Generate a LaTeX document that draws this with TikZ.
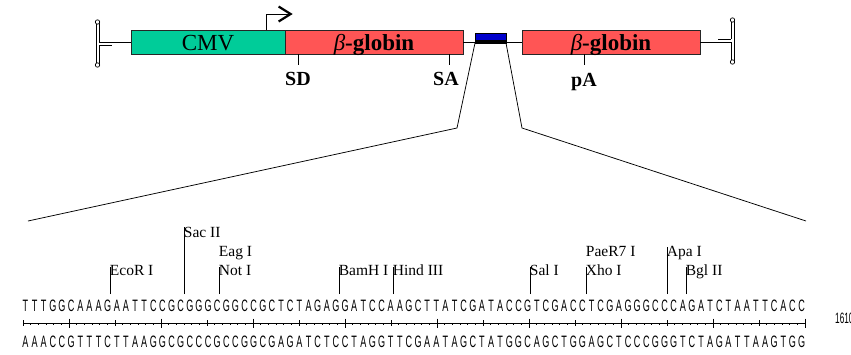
\documentclass[tikz,border=0pt]{standalone}
\usepackage{fontspec}
\setmainfont{Liberation Serif}
\newfontfamily\seqfont{Liberation Sans}
\usetikzlibrary{arrows.meta}
\definecolor{cmvgreen}{RGB}{0,204,153}
\definecolor{globred}{RGB}{255,85,85}
\definecolor{mcsblue}{RGB}{0,0,204}
\begin{document}
\begin{tikzpicture}[x=1pt,y=-1pt,
  box/.style={draw=black!85,line width=0.9pt,inner sep=0pt,outer sep=0pt,anchor=north west,
    text height=20.5pt,text depth=3.5pt,font=\fontsize{23}{23}\selectfont},
  gbox/.style={box,fill=globred,minimum width=178pt,font=\fontsize{23}{23}\selectfont\bfseries},
  wire/.style={line width=0.9pt},
  fine/.style={line width=0.75pt},
  mark label/.style={font=\fontsize{20}{20}\selectfont\bfseries,inner sep=0pt,anchor=base},
  enz/.style={font=\fontsize{15.5}{15.5}\selectfont,inner sep=0pt,anchor=base west},
  seq/.style={font=\seqfont\fontsize{16.5}{16.5}\selectfont,inner sep=0pt,anchor=base},
  term/.style={line width=0.7pt,fill=white}
]
\path[use as bounding box,fill=white] (0,0) rectangle (851,354);

% ---- boxes
\node[box,fill=cmvgreen,minimum width=154pt] (cmv) at (131,30) {CMV};
\node[gbox] (g1) at (285,30) {{\mdseries\itshape β}-globin};
\node[gbox] (g2) at (522,30) {{\mdseries\itshape β}-globin};

% backbone and MCS
\draw[wire] (g1.east) -- (g2.west);
\node[draw=black,fill=mcsblue,line width=0.8pt,minimum width=31pt,minimum height=10pt,
  anchor=north west,inner sep=0pt,outer sep=0pt] (mcs) at (475,33) {};
\fill[black] (mcs.south west) rectangle ([yshift=3pt]mcs.south east);

% left terminator
\coordinate (lt) at (99,42);
\draw[wire] (lt) -- (cmv.west);
\draw[fine] (96,23) -- (96,64);
\draw[fine] (99,23) -- (99,42);
\draw[fine] (99,45) -- (99,64);
\draw[fine] (99,45) -- (112,45);
\draw[term] (97.5,22) circle[radius=2.2pt];
\draw[term] (97.5,65) circle[radius=2.2pt];

% right terminator
\coordinate (rt) at (731,42);
\draw[wire] (g2.east) -- (rt);
\draw[fine] (734,21) -- (734,62);
\draw[fine] (731,21) -- (731,39);
\draw[fine] (731,42) -- (731,62);
\draw[fine] (718,39) -- (731,39);
\draw[term] (732.5,20) circle[radius=2.2pt];
\draw[term] (732.5,62) circle[radius=2.2pt];

% promoter arrow
\coordinate (tss) at ([xshift=135.7pt]cmv.north west);
\draw[wire,-{Straight Barb[length=12pt,width=15pt,line width=2.2pt]}] (tss) -- ++(0,-16) -- ++(26,0);

% SD / SA / pA
\coordinate (sd) at ([xshift=13pt]g1.south west);
\coordinate (sa) at ([xshift=164pt]g1.south west);
\coordinate (pa) at ([xshift=62pt]g2.south west);
\draw[wire] (sd) -- ++(0,11);
\draw[wire] (sa) -- ++(0,11);
\draw[wire] (pa) -- ++(0,11);
\node[mark label] (sdl) at (298,85) {SD};
\node[mark label] (sal) at (446,85) {SA};
\node[mark label] (pal) at (584,86) {pA};

% zoom lines
\coordinate (zl) at (457,128);
\coordinate (zle) at (28,221);
\coordinate (zr) at (522,128);
\coordinate (zre) at (806,221);
\draw[fine] (mcs.south west) -- (zl) -- (zle);
\draw[fine] (mcs.south east) -- (zr) -- (zre);

% sequences
\foreach \c [count=\i] in {T,T,T,G,G,C,A,A,A,G, A,A,T,T,C,C,G,C,G,G, G,C,G,G,C,C,G,C,T,C,
  T,A,G,A,G,G,A,T,C,C, A,A,G,C,T,T,A,T,C,G, A,T,A,C,C,G,T,C,G,A, C,C,T,C,G,A,G,G,G,C,
  C,C,A,G,A,T,C,T,A,A, T,T,C,A,C,C}
  \node[seq] (t\i) at ({25.5+9.13*(\i-1)},311) {\scalebox{0.55}[1]{\c}};
\foreach \c [count=\i] in {A,A,A,C,C,G,T,T,T,C, T,T,A,A,G,G,C,G,C,C, C,G,C,C,G,G,C,G,A,G,
  A,T,C,T,C,C,T,A,G,G, T,T,C,G,A,A,T,A,G,C, T,A,T,G,G,C,A,G,C,T, G,G,A,G,C,T,C,C,C,G,
  G,G,T,C,T,A,G,A,T,T, A,A,G,T,G,G}
  \node[seq] (b\i) at ({25.5+9.13*(\i-1)},347) {\scalebox{0.55}[1]{\c}};

% ruler
\coordinate (rs) at (23,323);
\coordinate (re) at (805,323);
\draw[fine] (rs) -- (re);
\foreach \j in {0,...,17}{
  \pgfmathsetmacro\h{ifthenelse(mod(\j,2)==1,4.5,3)}
  \draw[fine] ({23+46*\j},{323-\h}) -- ({23+46*\j},{323+\h});
}
\foreach \j in {0,...,16}{
  \foreach \d in {1,...,5}{
    \draw[fine] ({23+46*\j+46*\d/6},323) -- ({23+46*\j+46*\d/6},324.8);
  }
}
\node[seq,anchor=base west,font=\seqfont\fontsize{15}{15}\selectfont] (num) at (835,323) {\scalebox{0.55}[1]{1610}};

% restriction sites
\foreach \nm/\x/\row/\tp/\txt in {eco/110/275/267/EcoR I, sac/184/237/227/Sac II, not/219/275/267/Not I,
  bam/339/275/267/BamH I, hind/393/275/267/Hind III, sal/530/275/267/Sal I,
  xho/586/275/267/Xho I, apa/667/256/247/Apa I, bgl/686/275/267/Bgl II}{
  \node[enz] (\nm) at ({\x-0.3},\row) {\txt};
  \coordinate (\nm-b) at (\x,294);
  \coordinate (\nm-t) at (\x,\tp);
  \draw[fine] (\nm-b) -- (\nm-t);
}
\node[enz] (eag) at (218.7,256) {Eag I};
\node[enz] (pae) at (585.7,256) {PaeR7 I};
\end{tikzpicture}
\end{document}
